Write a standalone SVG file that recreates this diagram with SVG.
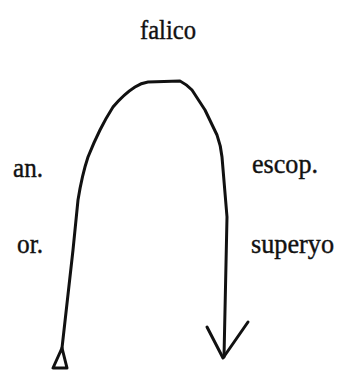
<svg xmlns="http://www.w3.org/2000/svg" width="339" height="372" viewBox="0 0 339 372">
<style>
.s{fill:none;stroke:#111;stroke-width:3;stroke-linejoin:round;stroke-linecap:round}
</style>
<rect width="339" height="372" fill="#fff"/>
<g id="labels" font-family="Liberation Serif, DejaVu Serif, serif" font-size="27" fill="#111" stroke="#111" stroke-width="0.4">
<text x="140" y="39" textLength="56" lengthAdjust="spacingAndGlyphs">falico</text>
<text x="13" y="177" textLength="30" lengthAdjust="spacingAndGlyphs">an.</text>
<text x="17" y="253" textLength="26" lengthAdjust="spacingAndGlyphs">or.</text>
<text x="252" y="173" textLength="66" lengthAdjust="spacingAndGlyphs">escop.</text>
<text x="251" y="253" textLength="83" lengthAdjust="spacingAndGlyphs">superyo</text>
</g>
<g id="connectors">
<path class="s" d="M62,348 L73,250 L78,200 Q82,175 88,157 Q94,142 100,130 Q106,118 113,107 Q124,94 135,87 Q141,83 148,82 L180,81 Q186,84 192,90 L205,110 L217,135 Q221,146 222,157 L227,217 L224,357"/>
<path class="s" d="M207,327 L223,358 L248,322"/>
<polygon class="s" points="62,348 53,368 67,368" fill="#fff"/>
</g>
</svg>
